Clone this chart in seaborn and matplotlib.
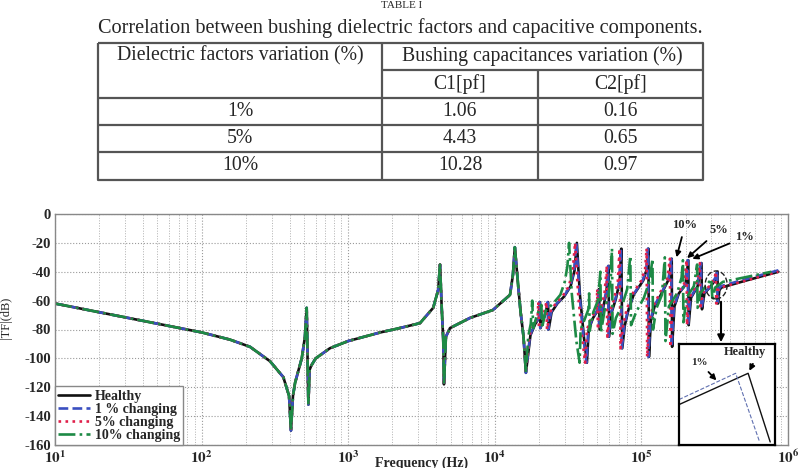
import pandas as pd
import seaborn as sns
import matplotlib.pyplot as plt
from matplotlib.patches import Ellipse
from matplotlib.ticker import LogLocator, NullFormatter

# ---- table values ----
table_title = "TABLE I"
table_caption = "Correlation between bushing dielectric factors and capacitive components."
col_head = "Dielectric factors variation (%)"
group_head = "Bushing capacitances variation (%)"
sub_heads = ["C1[pf]", "C2[pf]"]
variation = ["1%", "5%", "10%"]
c1_pf = [1.06, 4.43, 10.28]
c2_pf = [0.16, 0.65, 0.97]

# ---- transfer function |TF| (Hz, dB) ----
# below ~16 kHz all four curves lie on top of each other
common_low = [
    (10, -62), (31.6, -72), (100, -82), (156, -87), (214, -92), (293, -102),
    (361, -113), (395, -126), (407, -150), (420, -126), (434, -117), (482, -100),
    (507, -85), (521, -65), (535, -132), (545, -108), (560, -105), (600, -100),
    (750, -93), (1000, -88), (1660, -82), (2250, -79), (3090, -75.6), (3800, -65),
    (4110, -52.6), (4230, -35), (4340, -64), (4450, -87), (4500, -118), (4640, -85),
    (4950, -79), (6770, -72), (9700, -66.5), (12700, -56), (13300, -42), (13700, -23),
    (14300, -45), (15000, -68), (15700, -85), (16300, -110),
]

healthy_hf = [
    (17500, -84), (18900, -76), (20100, -72), (20300, -61), (20500, -79), (22000, -70),
    (23100, -61), (23300, -80), (24400, -68), (26700, -62), (29800, -57), (32900, -50),
    (35000, -39), (36300, -20), (38000, -55), (40600, -86), (42500, -103), (43700, -80),
    (46800, -72), (50900, -66), (51400, -52), (51900, -80), (54500, -66), (57600, -55),
    (59100, -42), (59700, -36), (60200, -85), (62700, -68), (66900, -59), (71000, -47),
    (73000, -24), (74000, -93), (77100, -77), (81300, -67), (88500, -56), (103000, -46),
    (109000, -38), (111600, -24), (112600, -99), (116000, -74), (123000, -64),
    (139000, -54), (154000, -45), (161000, -31), (162000, -92), (168000, -64),
    (180000, -55), (200000, -49), (209000, -32), (210000, -77), (218000, -58),
    (242000, -50), (257000, -34), (259000, -66), (269000, -55), (298000, -50),
    (322000, -45), (330000, -40), (333000, -62), (340000, -53), (350000, -51),
    (500000, -46.5), (860000, -40),
]

one_pct_hf = [
    (17400, -84), (18800, -76), (20000, -72), (20200, -61), (20400, -79), (21900, -70),
    (22900, -61), (23100, -80), (24200, -68), (26500, -62), (29600, -57), (32700, -50),
    (34800, -39), (36000, -20), (37800, -55), (40300, -86), (42200, -103), (43400, -80),
    (46500, -72), (50500, -66), (51000, -52), (51500, -80), (54100, -66), (57200, -55),
    (58700, -42), (59300, -36), (59800, -85), (62300, -68), (66400, -59), (70500, -47),
    (72500, -24), (73500, -93), (76600, -77), (80800, -67), (88000, -56), (102000, -46),
    (108000, -38), (110800, -24), (111800, -99), (115000, -74), (122000, -64),
    (138000, -54), (153000, -45), (160000, -31), (161000, -92), (167000, -64),
    (179000, -55), (199000, -49), (207500, -32), (208500, -77), (216000, -58),
    (240000, -50), (255000, -34), (257000, -66), (267000, -55), (296000, -50),
    (320000, -44), (328000, -39), (331000, -61), (338000, -52), (348000, -50),
    (500000, -45.5), (860000, -39),
]

five_pct_hf = [
    (17200, -84), (18500, -76), (19600, -72), (19800, -61), (20000, -79), (21500, -70),
    (22500, -61), (22700, -80), (23800, -68), (26000, -62), (29000, -57), (32000, -50),
    (34000, -39), (35300, -20), (37000, -55), (39500, -86), (41300, -103), (42500, -80),
    (45500, -72), (49500, -66), (50000, -52), (50500, -80), (53000, -66), (56000, -55),
    (57500, -42), (58000, -36), (58500, -85), (61000, -68), (65000, -59), (69000, -47),
    (71000, -24), (72000, -93), (75000, -77), (79000, -67), (86000, -56), (100000, -46),
    (106000, -38), (108500, -24), (109500, -99), (113000, -74), (120000, -64),
    (135000, -54), (150000, -45), (156500, -31), (157500, -92), (163000, -64),
    (175000, -55), (195000, -49), (203500, -32), (204500, -77), (212000, -58),
    (235000, -50), (250500, -34), (252000, -66), (262000, -55), (290000, -50),
    (315000, -45), (322000, -40), (324000, -62), (332000, -53), (344000, -51),
    (500000, -46.5), (860000, -40),
]

ten_pct_hf = [
    (16900, -85), (17600, -76), (18000, -60), (18300, -79), (19400, -70), (20800, -63),
    (21000, -79), (22200, -67), (25000, -62), (28000, -56), (30000, -47), (31300, -36),
    (32100, -20), (33500, -55), (36000, -88), (37900, -103), (38500, -80), (41000, -73),
    (43500, -66), (44000, -55), (44400, -81), (47000, -68), (50500, -60), (52500, -40),
    (53000, -82), (56000, -67), (60000, -55), (62000, -42), (63000, -24), (63600, -83),
    (67000, -72), (74000, -63), (80000, -52), (84000, -29), (85000, -77), (92000, -68),
    (104000, -58), (114000, -46), (119000, -31), (120000, -80), (127000, -65),
    (138000, -56), (144500, -30), (146000, -88), (154000, -64), (175000, -55),
    (188000, -44), (192000, -32), (193500, -75), (203000, -58), (228000, -50),
    (240000, -35), (241500, -65), (252000, -55), (275000, -50), (300000, -45),
    (305000, -60), (318000, -51), (360000, -47), (500000, -44), (770000, -40),
]

series_names = ["Healthy", "1 % changing", "5% changing", "10% changing"]
series_hf = [healthy_hf, one_pct_hf, five_pct_hf, ten_pct_hf]
series_colors = ["#111111", "#3a4fc0", "#e0204a", "#1d8a45"]
series_styles = ["-", "--", ":", "-."]

decades = [1, 2, 3, 4, 5, 6]
db_ticks = [0, -20, -40, -60, -80, -100, -120, -140, -160]

# inset (zoomed view around the circled region), in inset units
inset_1pct_x = [0.0, 0.59, 0.84]
inset_1pct_y = [0.45, 0.71, 0.03]
inset_healthy_x = [0.0, 0.72, 0.95]
inset_healthy_y = [0.40, 0.71, 0.03]

rows = []
for name, hf in zip(series_names, series_hf):
    for f, db in common_low + hf:
        rows.append((name, f, db))
df = pd.DataFrame(rows, columns=["series", "freq", "db"])

# ---- figure ----
sns.set_style("white")
plt.rcParams["font.family"] = ["Liberation Serif", "DejaVu Serif"]
plt.rcParams["mathtext.fontset"] = "stix"
plt.rcParams["axes.unicode_minus"] = False

W, H = 804, 468
fig = plt.figure(figsize=(W / 100, H / 100), dpi=100)

# table drawn in pixel coordinates
tab = fig.add_axes([0, 0, 1, 1])
tab.set_xlim(0, W)
tab.set_ylim(H, 0)
tab.axis("off")
tab.patch.set_alpha(0)

xl, xm1, xm2, xr = 98, 382, 538, 703
yt, ysub, yb = 43, 70, 180
row_y = [98, 125, 152, 180]
lc = dict(color="#555555", lw=1.6, solid_capstyle="butt")
tab.plot([xl, xr, xr, xl, xl], [yt, yt, yb, yb, yt], **lc)
for y in row_y[:-1]:
    tab.plot([xl, xr], [y, y], **lc)
tab.plot([xm1, xr], [ysub, ysub], **lc)
tab.plot([xm1, xm1], [yt, yb], **lc)
tab.plot([xm2, xm2], [ysub, yb], **lc)

tfs = 14.2
tab.text(W / 2, 1, table_title, ha="center", va="top", fontsize=8)
tab.text(400, 28, table_caption, ha="center", va="center", fontsize=14.6)
tab.text((xl + xm1) / 2, 56, col_head, ha="center", va="center", fontsize=tfs)
tab.text((xm1 + xr) / 2, 56, group_head, ha="center", va="center", fontsize=tfs)
tab.text((xm1 + xm2) / 2, 84, sub_heads[0], ha="center", va="center", fontsize=tfs)
tab.text((xm2 + xr) / 2, 84, sub_heads[1], ha="center", va="center", fontsize=tfs)
for i, (v, a, b) in enumerate(zip(variation, c1_pf, c2_pf)):
    yc = (row_y[i] + row_y[i + 1]) / 2
    tab.text((xl + xm1) / 2, yc, v, ha="center", va="center", fontsize=tfs)
    tab.text((xm1 + xm2) / 2, yc, f"{a:.2f}", ha="center", va="center", fontsize=tfs)
    tab.text((xm2 + xr) / 2, yc, f"{b:.2f}", ha="center", va="center", fontsize=tfs)

# main chart
ax = fig.add_axes([55 / W, 23 / H, 733 / W, 231 / H])
for name, col, ls in zip(series_names, series_colors, series_styles):
    sns.lineplot(data=df[df.series == name], x="freq", y="db", ax=ax,
                 estimator=None, sort=False, color=col, linestyle=ls,
                 linewidth=1.9, label=name)

ax.set_xscale("log")
ax.set_xlim(10, 1e6)
ax.set_ylim(-160, 0)
ax.set_xticks([10.0 ** k for k in decades])
ax.set_xticklabels([rf"$\mathbf{{10^{{{k}}}}}$" for k in decades], fontsize=11)
ax.xaxis.set_minor_locator(LogLocator(base=10, subs=range(2, 10), numticks=20))
ax.xaxis.set_minor_formatter(NullFormatter())
ax.set_yticks(db_ticks)
ax.set_yticklabels([str(v) for v in db_ticks], fontsize=10.5, fontweight="bold")
ax.tick_params(which="both", direction="in", length=3, pad=3, color="#777777")
ax.grid(True, which="major", ls=":", color="#9a9a9a", lw=0.8)
ax.grid(True, which="minor", axis="x", ls=":", color="#b0b0b0", lw=0.7)
for s in ax.spines.values():
    s.set_color("#888888")
    s.set_linewidth(1.0)

ax.set_xlabel("Frequency (Hz)", fontsize=10, fontweight="bold")
ax.xaxis.set_label_coords(0.5, -0.048)
ax.set_ylabel("|TF|(dB)", fontsize=9)
ax.yaxis.set_label_coords(-0.058, 0.55)

leg = ax.legend(loc="lower left", borderaxespad=0,
                prop={"weight": "bold", "size": 10}, frameon=True, fancybox=False,
                handlelength=2.3, handletextpad=0.3, labelspacing=0.0,
                borderpad=0.25)
leg.get_frame().set_edgecolor("#888888")
leg.get_frame().set_linewidth(1.0)
leg.get_frame().set_alpha(1)

# annotations
arr = dict(arrowstyle="-|>", color="black", lw=1.3, mutation_scale=8)
ax.annotate("10%", xy=(0.847, 0.801), xytext=(0.8595, 0.952), xycoords="axes fraction",
            ha="center", va="center", fontsize=9, fontweight="bold", arrowprops=arr)
ax.annotate("5%", xy=(0.8595, 0.801), xytext=(0.906, 0.931), xycoords="axes fraction",
            ha="center", va="center", fontsize=9, fontweight="bold", arrowprops=arr)
ax.annotate("1%", xy=(0.866, 0.801), xytext=(0.941, 0.900), xycoords="axes fraction",
            ha="center", va="center", fontsize=9, fontweight="bold", arrowprops=arr)
ax.add_patch(Ellipse((0.902, 0.693), 0.030, 0.121, transform=ax.transAxes,
                     fill=False, ls="--", lw=1.0, ec="#222222", zorder=6))
ax.annotate("", xy=(0.9086, 0.433), xytext=(0.9086, 0.632), xycoords="axes fraction",
            arrowprops=dict(arrowstyle="-|>", color="black", lw=1.5, mutation_scale=10))

# inset
ins = fig.add_axes([679 / W, 23 / H, 96 / W, 101 / H])
ins.set_facecolor("white")
ins.plot(inset_healthy_x, inset_healthy_y, color="#111111", lw=1.0)
ins.plot(inset_1pct_x, inset_1pct_y, color="#6070b0", lw=0.8, ls="--")
ins.set_xlim(0, 1)
ins.set_ylim(0, 1)
ins.set_xticks([])
ins.set_yticks([])
for s in ins.spines.values():
    s.set_color("black")
    s.set_linewidth(1.6)
ins.annotate("1%", xy=(0.41, 0.62), xytext=(0.21, 0.82), ha="center", va="center",
             fontsize=8, fontweight="bold", arrowprops=arr)
ins.annotate("Healthy", xy=(0.72, 0.71), xytext=(0.69, 0.92), ha="center", va="center",
             fontsize=9, fontweight="bold",
             arrowprops=dict(arrowstyle="-|>", color="black", lw=1.3, mutation_scale=8,
                             relpos=(0.75, 0.0)))

fig.savefig("out.png", dpi=100)
